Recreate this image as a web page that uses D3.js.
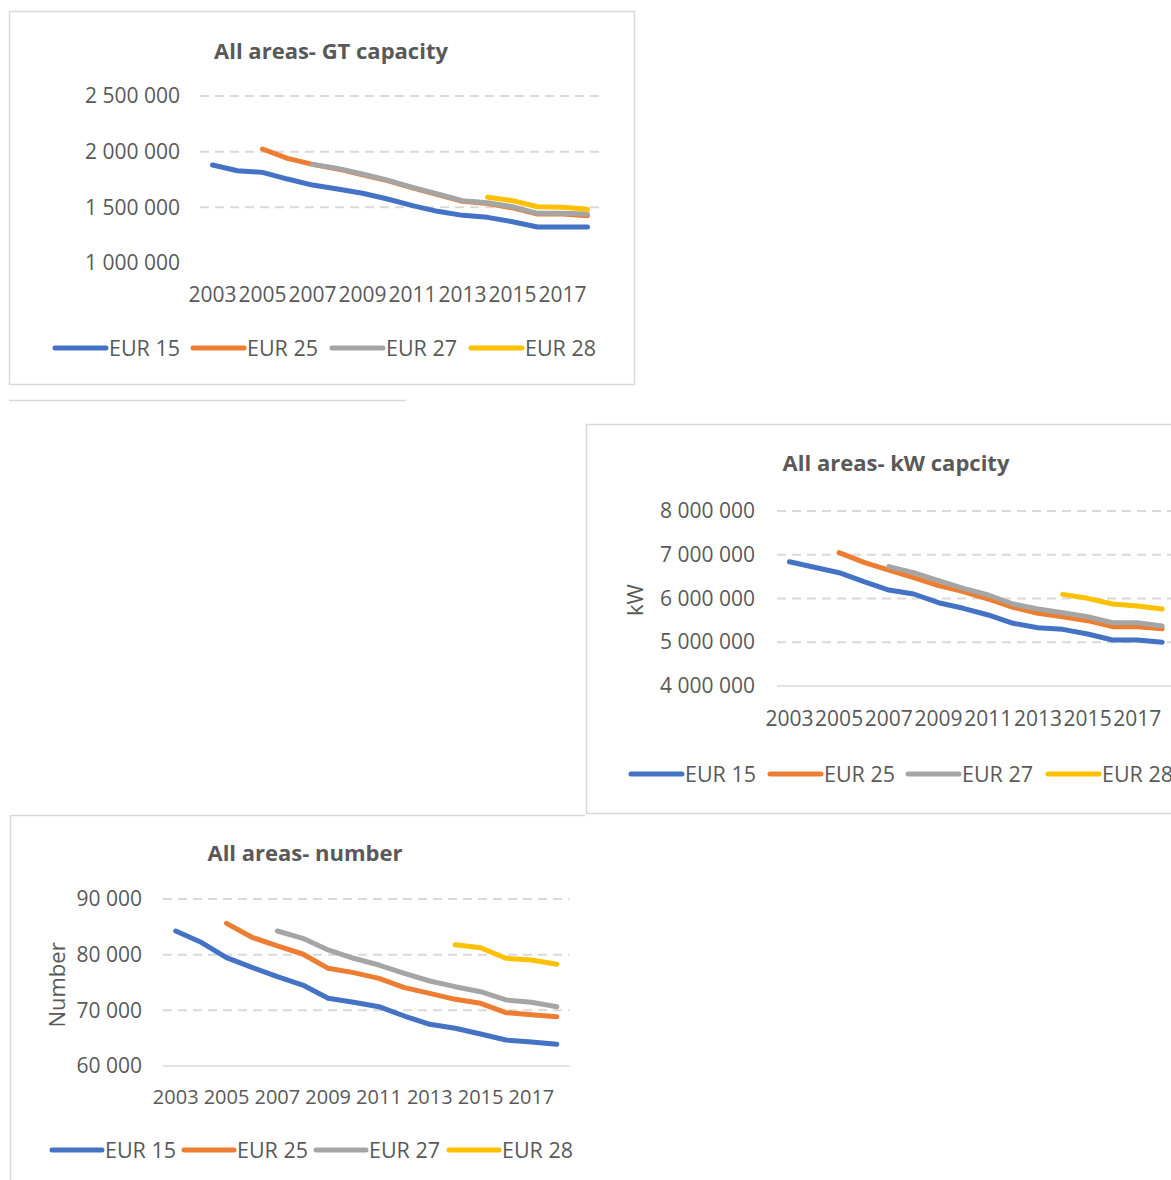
<!DOCTYPE html>
<html>
<head>
<meta charset="utf-8">
<script src="https://cdn.jsdelivr.net/npm/d3@7"></script>
<style>
  html, body { margin: 0; padding: 0; background: #ffffff; }
  svg { display: block; }
  text { font-family: "Open Sans", "Noto Sans", sans-serif; fill: #595959; }
</style>
</head>
<body>
<svg id="page" width="1171" height="1180"></svg>
<script>
// Fleet figures by year, one line per EU grouping
const years = [2003, 2004, 2005, 2006, 2007, 2008, 2009, 2010, 2011, 2012, 2013, 2014, 2015, 2016, 2017, 2018];
const yearTickLabels = [2003, 2005, 2007, 2009, 2011, 2013, 2015, 2017];
const seriesNames = ["EUR 15", "EUR 25", "EUR 27", "EUR 28"];
const seriesColors = ["#4472c4", "#ed7d31", "#a5a5a5", "#ffc000"];

// Gross tonnage
const gtEur15 = [1880000, 1829000, 1814000, 1754000, 1700000, 1664000, 1626000, 1575000, 1515000, 1464000, 1428000, 1410000, 1371000, 1323000, 1323000, 1323000];
const gtEur25 = [null, null, 2024000, 1940000, 1886000, 1845000, 1793000, 1740000, 1675000, 1615000, 1555000, 1535000, 1495000, 1440000, 1440000, 1425000];
const gtEur27 = [null, null, null, null, 1886000, 1850000, 1799000, 1745000, 1680000, 1620000, 1560000, 1541000, 1505000, 1446000, 1446000, 1440000];
const gtEur28 = [null, null, null, null, null, null, null, null, null, null, null, 1590000, 1560000, 1505000, 1500000, 1482000];
const gtTicks = [1000000, 1500000, 2000000, 2500000];

// Engine power (kW)
const kwEur15 = [6841000, 6713000, 6590000, 6384000, 6194000, 6103000, 5904000, 5776000, 5623000, 5433000, 5333000, 5295000, 5189000, 5051000, 5051000, 4998000];
const kwEur25 = [null, null, 7047000, 6827000, 6651000, 6476000, 6293000, 6156000, 5989000, 5798000, 5661000, 5584000, 5493000, 5356000, 5356000, 5310000];
const kwEur27 = [null, null, null, null, 6728000, 6590000, 6408000, 6232000, 6080000, 5874000, 5760000, 5676000, 5584000, 5447000, 5447000, 5371000];
const kwEur28 = [null, null, null, null, null, null, null, null, null, null, null, 6095000, 6004000, 5874000, 5829000, 5760000];
const kwTicks = [4000000, 5000000, 6000000, 7000000, 8000000];

// Number of vessels
const numEur15 = [84250, 82220, 79460, 77730, 76040, 74550, 72160, 71440, 70650, 68980, 67490, 66770, 65750, 64670, 64310, 63900];
const numEur25 = [null, null, 85630, 83120, 81560, 80120, 77550, 76770, 75750, 74070, 73050, 71980, 71260, 69580, 69220, 68860];
const numEur27 = [null, null, null, null, 84250, 82940, 80840, 79350, 78140, 76650, 75270, 74250, 73350, 71860, 71440, 70650];
const numEur28 = [null, null, null, null, null, null, null, null, null, null, null, 81790, 81250, 79350, 79040, 78270];
const numTicks = [60000, 70000, 80000, 90000];

const spaced = d3.formatLocale({ decimal: ",", thousands: "\u00a0", grouping: [3], currency: ["", ""] }).format(",d");

const svg = d3.select("#page");
const border = "#d9d9d9";

// Panel frames
svg.append("rect").attr("x", 9.5).attr("y", 11.5).attr("width", 625).attr("height", 373)
  .attr("fill", "none").attr("stroke", border).attr("stroke-width", 1.5);
svg.append("line").attr("x1", 9).attr("x2", 406).attr("y1", 400.5).attr("y2", 400.5)
  .attr("stroke", border).attr("stroke-width", 1.5);
svg.append("path").attr("d", "M1172,424.5H586.5V813.5H1172")
  .attr("fill", "none").attr("stroke", border).attr("stroke-width", 1.5);
svg.append("path").attr("d", "M585,815.5H10.5V1181")
  .attr("fill", "none").attr("stroke", border).attr("stroke-width", 1.5);

function drawChart(cfg) {
  const g = svg.append("g");
  const x = d3.scaleBand().domain(years).range([cfg.left, cfg.right]).padding(0);
  const cx = d => x(d) + x.bandwidth() / 2;
  const y = d3.scaleLinear().domain(cfg.domain).range([cfg.bottom, cfg.top]);

  // title
  g.append("text").attr("x", cfg.titleX).attr("y", cfg.titleY)
    .attr("text-anchor", "middle").attr("font-size", 22).attr("font-weight", 700)
    .text(cfg.title);

  // horizontal gridlines
  g.append("g").selectAll("line").data(cfg.ticks.slice(1)).join("line")
    .attr("x1", cfg.left).attr("x2", cfg.right)
    .attr("y1", d => y(d)).attr("y2", d => y(d))
    .attr("stroke", border).attr("stroke-width", 2).attr("stroke-dasharray", "9,6");

  if (cfg.baseLine) {
    g.append("line").attr("x1", cfg.left).attr("x2", cfg.right)
      .attr("y1", y(cfg.domain[0])).attr("y2", y(cfg.domain[0]))
      .attr("stroke", border).attr("stroke-width", 1.5);
  }

  // value axis
  const ya = g.append("g").attr("transform", `translate(${cfg.left},0)`)
    .call(d3.axisLeft(y).tickValues(cfg.ticks).tickSize(0).tickPadding(cfg.left - cfg.tickRight).tickFormat(spaced));
  ya.select(".domain").remove();
  ya.selectAll("text").attr("font-size", cfg.tickSize).attr("fill", "#595959")
    .style("font-family", "'Open Sans', sans-serif");

  // category axis
  const xa = g.append("g").attr("transform", `translate(0,${cfg.bottom})`)
    .call(d3.axisBottom(x).tickValues(yearTickLabels).tickSize(0).tickPadding(cfg.xPad));
  xa.select(".domain").remove();
  xa.selectAll("text").attr("font-size", cfg.xTickSize).attr("fill", "#595959")
    .style("font-family", "'Open Sans', sans-serif");

  if (cfg.yLabel) {
    g.append("text").attr("transform", `translate(${cfg.yLabelX},${cfg.yLabelY}) rotate(-90)`)
      .attr("text-anchor", "middle").attr("font-size", 22).text(cfg.yLabel);
  }

  // series lines
  const line = d3.line().defined(d => d.v != null).x(d => cx(d.year)).y(d => y(d.v))
    .curve(d3.curveLinear);
  cfg.series.forEach((vals, i) => {
    g.append("path")
      .datum(years.map((yr, k) => ({ year: yr, v: vals[k] })))
      .attr("d", line).attr("fill", "none")
      .attr("stroke", seriesColors[i]).attr("stroke-width", 5)
      .attr("stroke-linejoin", "round").attr("stroke-linecap", "round");
  });

  // legend
  const lg = g.append("g");
  seriesNames.forEach((name, i) => {
    const lx = cfg.legendX[i];
    lg.append("line").attr("x1", lx).attr("x2", lx + cfg.legendLen)
      .attr("y1", cfg.legendY).attr("y2", cfg.legendY)
      .attr("stroke", seriesColors[i]).attr("stroke-width", 5).attr("stroke-linecap", "round");
    lg.append("text").attr("x", lx + cfg.legendLen + 3).attr("y", cfg.legendY)
      .attr("dy", "0.36em").attr("font-size", 21.5).text(name);
  });
}

drawChart({
  title: "All areas- GT capacity", titleX: 331, titleY: 59,
  left: 200, right: 600, top: 96, bottom: 263,
  domain: [1000000, 2500000], ticks: gtTicks, tickRight: 180,
  tickSize: 21, xTickSize: 21, xPad: 24, baseLine: false,
  series: [gtEur15, gtEur25, gtEur27, gtEur28],
  legendX: [55, 193, 332, 471], legendLen: 51, legendY: 348
});

drawChart({
  title: "All areas- kW capcity", titleX: 896, titleY: 471,
  left: 777, right: 1174.6, top: 511, bottom: 686,
  domain: [4000000, 8000000], ticks: kwTicks, tickRight: 755,
  tickSize: 21, xTickSize: 21, xPad: 25, baseLine: true,
  yLabel: "kW", yLabelX: 643, yLabelY: 600,
  series: [kwEur15, kwEur25, kwEur27, kwEur28],
  legendX: [631, 770, 908, 1048], legendLen: 51, legendY: 774
});

drawChart({
  title: "All areas- number", titleX: 305, titleY: 861,
  left: 163, right: 569.5, top: 899, bottom: 1066,
  domain: [60000, 90000], ticks: numTicks, tickRight: 142,
  tickSize: 21, xTickSize: 20, xPad: 24, baseLine: true,
  yLabel: "Number", yLabelX: 65, yLabelY: 985,
  series: [numEur15, numEur25, numEur27, numEur28],
  legendX: [52, 184, 316, 449], legendLen: 50, legendY: 1150
});
</script>
</body>
</html>
